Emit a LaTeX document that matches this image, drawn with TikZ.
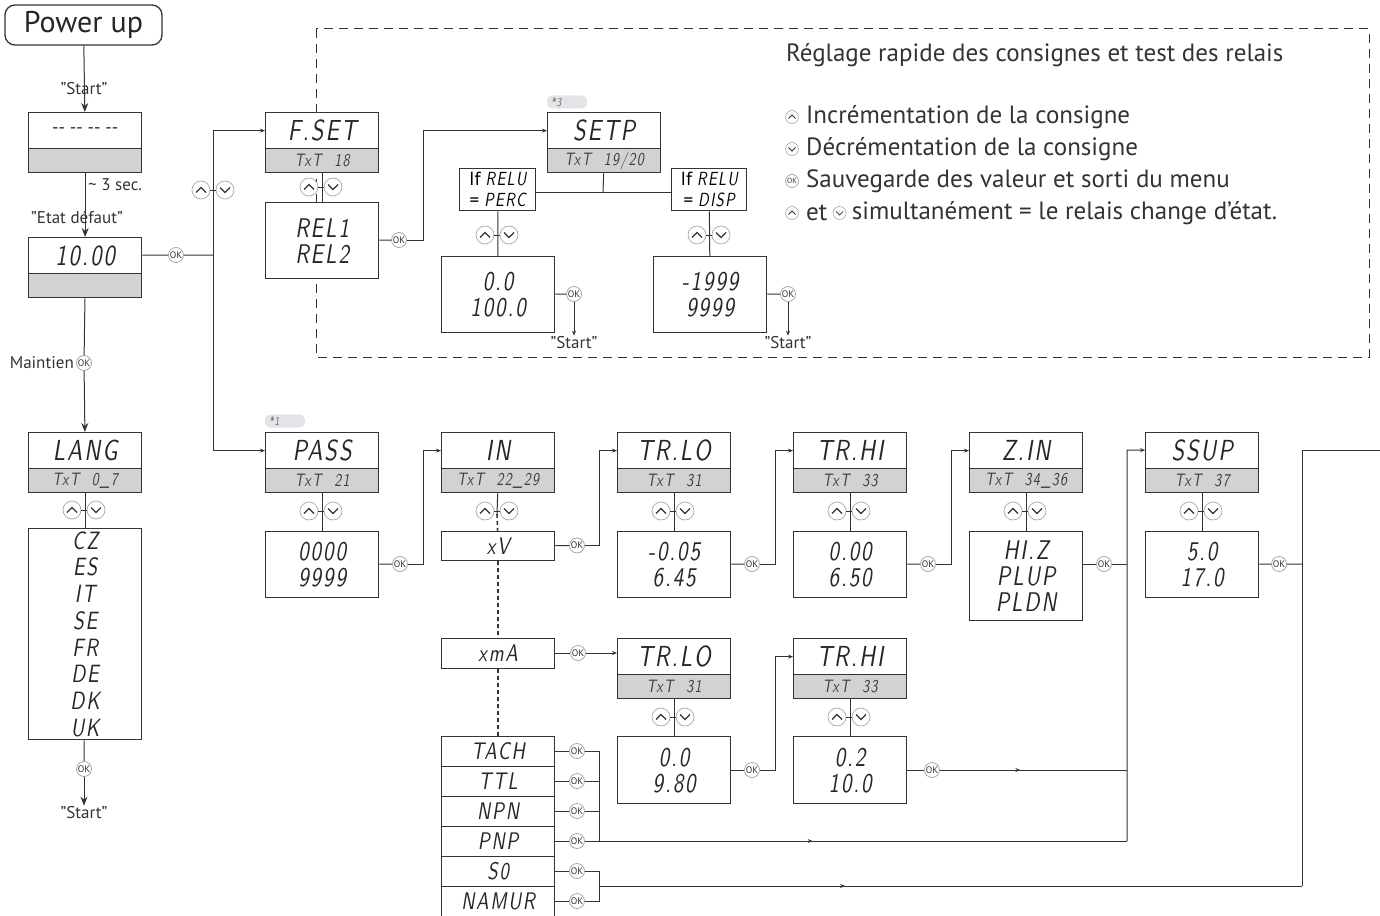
\documentclass[tikz,border=0pt]{standalone}
\usepackage{fontspec}
\setmainfont{PT Sans}
\newfontfamily\lcd{lmsans10-oblique.otf}[LetterSpace=7, FakeStretch=0.78]
\usetikzlibrary{arrows.meta,decorations.markings}
\definecolor{ln}{HTML}{333333}
\definecolor{gbar}{HTML}{D2D2D2}
\definecolor{icon}{HTML}{A8A8A8}
\definecolor{tabc}{HTML}{E2E4E8}
\begin{document}
\begin{tikzpicture}[x=1pt,y=-1pt,
  box/.style={draw=ln, line width=1.3pt, fill=white, inner sep=0pt, anchor=north west, minimum width=113pt, align=center, text=black!85},
  hw/.style={box, minimum height=36pt, font=\lcd\fontsize{29}{29}\selectfont},
  hg/.style={box, fill=gbar, minimum height=24pt, font=\lcd\fontsize{18}{18}\selectfont, text=black!75},
  val/.style={box, font=\lcd\fontsize{27}{26}\selectfont},
  item/.style={box, minimum height=30pt, font=\lcd\fontsize{24}{24}\selectfont},
  conn/.style={draw=ln, line width=1pt},
  arr/.style={conn, -{Stealth[length=5pt,width=4pt]}},
  bigarr/.style={conn, -{Stealth[length=9pt,width=7pt]}},
  midarr/.style={conn, postaction={decorate}, decoration={markings, mark=at position #1 with {\arrow{Stealth[length=5pt,width=4pt]}}}},
  ok/.style={circle, draw=icon, fill=white, line width=0.8pt, inner sep=0pt, minimum size=15pt, font=\fontsize{9.5}{9.5}\selectfont, text=ln},
  oksm/.style={ok, minimum size=13pt, font=\fontsize{7.5}{7.5}\selectfont},
  lbl/.style={font=\fontsize{17}{17}\selectfont, text=ln, inner sep=1pt},
  leg/.style={font=\fontsize{25}{25}\selectfont, text=ln, anchor=west, inner sep=0pt},
  tabst/.style={fill=tabc, rounded corners=5pt, minimum width=40pt, minimum height=13pt, inner sep=0pt, text width=32pt, align=left, font=\lcd\fontsize{12}{12}\selectfont, text=black!60},
  ifbox/.style={draw=ln, line width=1.3pt, fill=white, inner sep=0pt, anchor=north west, minimum width=76pt, minimum height=42pt, align=center, font=\fontsize{19}{21}\selectfont},
  pics/updown/.style={code={
    \draw[icon,line width=0.7pt,fill=white] (-12,0) circle (9pt);
    \draw[icon,line width=0.7pt,fill=white] (12,0) circle (9pt);
    \draw[ln,line width=1.1pt] (-17,2.5) -- (-12,-2.5) -- (-7,2.5);
    \draw[ln,line width=1.1pt] (7,-2.5) -- (12,2.5) -- (17,-2.5);
    \draw[ln,line width=1pt] (-3,0) -- (3,0);
  }},
  pics/upic/.style={code={
    \draw[icon,line width=0.6pt,fill=white] (0,0) circle (6.5pt);
    \draw[ln,line width=0.8pt] (-3.5,1.5) -- (0,-2) -- (3.5,1.5);
  }},
  pics/dnic/.style={code={
    \draw[icon,line width=0.6pt,fill=white] (0,0) circle (6.5pt);
    \draw[ln,line width=0.8pt] (-3.5,-1.5) -- (0,2) -- (3.5,-1.5);
  }}
]
\useasboundingbox (0,0) rectangle (1380,915);
\newcommand\hdrbox[5]{%
  \node[hw] (#1) at (#2,#3) {#4};
  \node[hg] (#1t) at (#2,#3+36) {#5};}
\newcommand\tx[1]{TxT\hspace{0.7em}#1}

% dashed frame
\draw[ln, line width=1pt, dash pattern=on 9pt off 6pt] (316,29) rectangle (1369,357);

% legend
\node[leg] (ltitle) at (786,55) {Réglage rapide des consignes et test des relais};
\pic at (792,117) {upic};
\node[leg] (l1) at (806,117) {Incrémentation de la consigne};
\pic at (792,149) {dnic};
\node[leg] (l2) at (806,149) {Décrémentation de la consigne};
\node[oksm] (lok) at (792,181) {OK};
\node[leg] (l3) at (806,181) {Sauvegarde des valeur et sorti du menu};
\pic at (792,213) {upic};
\node[leg] (l4a) at (806,213) {et};
\pic at ([xshift=12pt]l4a.east) {dnic};
\node[leg] (l4b) at ([xshift=24pt]l4a.east) {simultanément = le relais change d’état.};

% left column
\node[draw=ln, line width=1.3pt, rounded corners=10pt, minimum width=157pt, minimum height=40pt, inner sep=0pt, font=\fontsize{30}{30}\selectfont, text=black!85] (pw) at (83.5,25) {Power up};
\hdrbox{b1}{28}{112}{}{}
\node[font=\fontsize{18}{18}\selectfont, text=black!85] (b1txt) at (b1.center) {-{}- -{}- -{}- -{}-};
\hdrbox{b2}{28}{237}{10.00}{}
\hdrbox{lang}{28}{432}{LANG}{\tx{0\_7}}
\node[box, minimum height=211pt, font=\lcd\fontsize{25}{26.7}\selectfont] (langs) at (28,528) {CZ\\ES\\IT\\SE\\FR\\DE\\DK\\UK};

\draw[bigarr] (pw) -- (b1);
\node[lbl] (st1) at (84,89) {"Start"};
\draw[bigarr] (b1t) -- (b2);
\node[lbl, anchor=west] (s3) at (87,185) {\textasciitilde{} 3 sec.};
\node[lbl] (ed) at (77,217) {"Etat défaut"};
\node[ok] (okm) at (84,363) {OK};
\node[lbl, anchor=east] (mt) at (75,363) {Maintien};
\draw[conn] (b2t) -- (okm);
\draw[bigarr] (okm) -- (lang);
\draw[conn] (langt) -- (langs);
\pic at (84,510) {updown};
\node[ok] (okl) at (84,769) {OK};
\node[lbl] (st2) at (84,813) {"Start"};
\draw[conn] (langs) -- (okl);
\draw[bigarr] (okl) -- (st2);

% F.SET branch
\hdrbox{fset}{265}{112}{F.SET}{\tx{18}}
\node[val, minimum height=76pt] (rel) at (265,202) {REL1\\REL2};
\hdrbox{pass}{265}{432}{PASS}{\tx{21}}
\node[tabst] (tab1) at (285,421) {*1};
\node[ok] (ok0) at (176,255) {OK};
\coordinate (bus0) at (213,255);
\draw[conn] (b2) -- (ok0) -- (bus0);
\draw[arr] (bus0) |- (fset);
\draw[arr] (bus0) |- (pass);
\pic at (213,190) {updown};
\draw[conn] (fsett) -- (rel);
\pic at (321,187) {updown};

% SETP
\hdrbox{setp}{547}{112}{SETP}{\tx{19/20}}
\node[tabst] (tab3) at (567,102) {*3};
\node[ok] (ok1) at (399,240) {OK};
\coordinate (j1) at (423,240);
\draw[conn] (rel) -- (ok1);
\draw[arr] (ok1) -- (j1) |- (setp);
\node[ifbox] (perc) at (459,168) {If {\lcd RELU}\\= {\lcd PERC}};
\node[ifbox, minimum width=75pt] (disp) at (671,168) {If {\lcd RELU}\\= {\lcd DISP}};
\coordinate (sj) at (603,192);
\draw[conn] (setpt) -- (sj);
\draw[conn] (perc.east |- sj) -- (disp.west |- sj);
\node[val, minimum height=76pt] (v1) at (441,256) {0.0\\100.0};
\node[val, minimum height=76pt] (v2) at (653,256) {-1999\\9999};
\draw[conn] (perc) -- (v1);
\draw[conn] (disp) -- (v2);
\pic at (497,235) {updown};
\pic at (709,235) {updown};
\node[ok] (ok2) at (574,294) {OK};
\node[ok] (ok3) at (788,294) {OK};
\node[lbl] (st3) at (574,343) {"Start"};
\node[lbl] (st4) at (788,343) {"Start"};
\draw[conn] (v1) -- (ok2);
\draw[conn] (v2) -- (ok3);
\draw[arr] (ok2) -- (st3);
\draw[arr] (ok3) -- (st4);

% row 2
\node[val, minimum height=66pt] (passv) at (265,531) {0000\\9999};
\draw[conn] (passt) -- (passv);
\pic at (321,511) {updown};
\hdrbox{in}{441}{432}{IN}{\tx{22\_29}}
\node[ok] (ok4) at (400,564) {OK};
\coordinate (j4) at (423,564);
\draw[conn] (passv) -- (ok4);
\draw[arr] (ok4) -- (j4) |- (in);
\node[item, minimum height=29pt] (xv) at (441,531) {xV};
\coordinate (inx) at (497,514);
\draw[conn] (int) -- (inx);
\draw[ln, line width=1.6pt, dash pattern=on 4pt off 3pt] (inx) -- (xv);
\pic at (497,511) {updown};
\hdrbox{trlo}{617}{432}{TR.LO}{\tx{31}}
\node[ok] (ok5) at (577,545.5) {OK};
\coordinate (j5) at (599,545.5);
\draw[conn] (xv) -- (ok5);
\draw[arr] (ok5) -- (j5) |- (trlo);
\node[val, minimum height=66pt] (trlov) at (617,531) {-0.05\\6.45};
\draw[conn] (trlot) -- (trlov);
\pic at (673,511) {updown};
\hdrbox{trhi}{793}{432}{TR.HI}{\tx{33}}
\node[ok] (ok6) at (752,564) {OK};
\coordinate (j6) at (775,564);
\draw[conn] (trlov) -- (ok6);
\draw[arr] (ok6) -- (j6) |- (trhi);
\node[val, minimum height=66pt] (trhiv) at (793,531) {0.00\\6.50};
\draw[conn] (trhit) -- (trhiv);
\pic at (849,511) {updown};
\hdrbox{zin}{969}{432}{Z.IN}{\tx{34\_36}}
\node[ok] (ok7) at (928,564) {OK};
\coordinate (j7) at (951,564);
\draw[conn] (trhiv) -- (ok7);
\draw[arr] (ok7) -- (j7) |- (zin);
\node[val, minimum height=89pt] (zinv) at (969,531) {HI.Z\\PLUP\\PLDN};
\draw[conn] (zint) -- (zinv);
\pic at (1025,511) {updown};
\hdrbox{ssup}{1145}{432}{SSUP}{\tx{37}}
\node[ok] (ok8) at (1104,564) {OK};
\coordinate (j8) at (1127,564);
\coordinate (bus8t) at (1127,450);
\coordinate (bus8b) at (1127,841);
\draw[conn] (zinv.east |- ok8) -- (ok8) -- (j8);
\draw[arr] (bus8b) -- (bus8t) -- (ssup);
\node[val, minimum height=66pt] (ssupv) at (1145,531) {5.0\\17.0};
\draw[conn] (ssupt) -- (ssupv);
\pic at (1201,511) {updown};
\node[ok] (ok9) at (1279,564) {OK};
\coordinate (bus9t) at (1302,450);
\coordinate (bus9b) at (1302,886);
\coordinate (bus9e) at (1380,450);
\draw[conn] (ssupv) -- (ok9) -- (ok9 -| bus9t);
\draw[conn] (bus9b) -- (bus9t) -- (bus9e);

% row 3
\node[item, minimum height=30pt] (xma) at (441,638) {xmA};
\draw[ln, line width=1.6pt, dash pattern=on 4pt off 3pt] (xv) -- (xma);
\hdrbox{trlo2}{617}{638}{TR.LO}{\tx{31}}
\node[ok] (ok10) at (578,653) {OK};
\draw[conn] (xma.east |- ok10) -- (ok10);
\draw[arr] (ok10) -- (trlo2.west |- ok10);
\node[val, minimum height=67pt] (trlo2v) at (617,736) {0.0\\9.80};
\draw[conn] (trlo2t) -- (trlo2v);
\pic at (673,717) {updown};
\hdrbox{trhi2}{793}{638}{TR.HI}{\tx{33}}
\node[ok] (ok11) at (752,770) {OK};
\coordinate (j11) at (775,770);
\draw[conn] (trlo2v.east |- ok11) -- (ok11);
\draw[arr] (ok11) -- (j11) |- (trhi2);
\node[val, minimum height=67pt] (trhi2v) at (793,736) {0.2\\10.0};
\draw[conn] (trhi2t) -- (trhi2v);
\pic at (849,717) {updown};
\node[ok] (ok12) at (932,770) {OK};
\coordinate (j12) at (1127,770);
\draw[conn] (trhi2v.east |- ok12) -- (ok12);
\draw[midarr=0.43] (ok12) -- (j12);

% input list
\node[item] (tach) at (441,736) {TACH};
\node[item] (ttl) at (441,766) {TTL};
\node[item] (npn) at (441,796) {NPN};
\node[item] (pnp) at (441,826) {PNP};
\node[item] (szero) at (441,856) {S0};
\node[item] (namur) at (441,886) {NAMUR};
\draw[ln, line width=1.6pt, dash pattern=on 4pt off 3pt] (xma) -- (tach);
\foreach \n/\y in {tach/751,ttl/781,npn/811,pnp/841,szero/871,namur/901}{
  \node[ok] (ok\n) at (577,\y) {OK};
  \draw[conn] (\n.east |- ok\n) -- (ok\n);
}
\coordinate (ja) at (599,751);
\coordinate (jb) at (599,841);
\coordinate (jc) at (599,871);
\coordinate (jd) at (599,901);
\coordinate (je) at (599,886);
\draw[conn] (oktach) -- (ja) -- (jb);
\draw[conn] (okttl) -- (okttl -| ja);
\draw[conn] (oknpn) -- (oknpn -| ja);
\draw[midarr=0.42] (okpnp) -- (bus8b);
\draw[conn] (okszero) -- (jc) -- (jd) -- (oknamur);
\draw[midarr=0.35] (je) -- (bus9b);
\end{tikzpicture}
\end{document}
